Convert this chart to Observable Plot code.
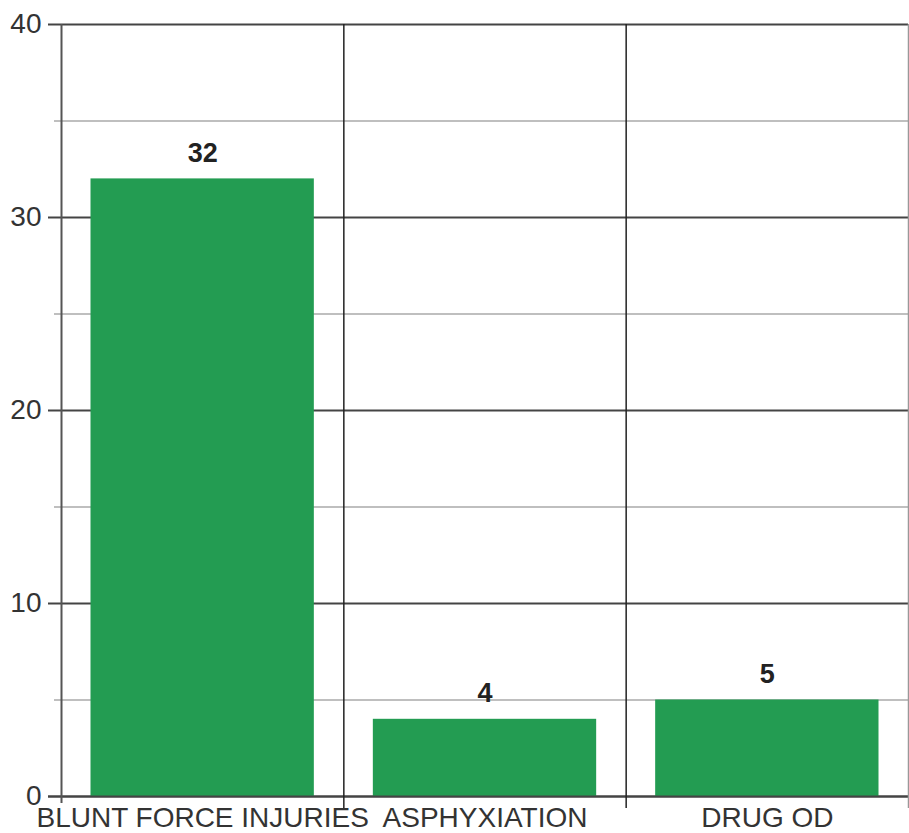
<!DOCTYPE html>
<html>
<head>
<meta charset="utf-8">
<script src="https://cdn.jsdelivr.net/npm/d3@7"></script>
<script src="https://cdn.jsdelivr.net/npm/@observablehq/plot@0.6"></script>
<style>
  html, body { margin: 0; padding: 0; background: #fff; }
  #chart svg { display: block; }
</style>
</head>
<body>
<div id="chart"></div>
<script>
const categories = ["BLUNT FORCE INJURIES", "ASPHYXIATION", "DRUG OD"];
const values = [32, 4, 5];
const majorTicks = [0, 10, 20, 30, 40];
const minorTicks = [5, 15, 25, 35];

const data = categories.map((c, i) => ({category: c, value: values[i], i}));
const dividers = d3.range(categories.length + 1);

const font = "'Liberation Sans', Arial, Helvetica, sans-serif";

const chart = Plot.plot({
  width: 909,
  height: 833,
  marginTop: 24,
  marginBottom: 37,
  marginLeft: 61,
  marginRight: 1,
  x: {domain: [0, categories.length], axis: null},
  y: {domain: [0, 40], axis: null},
  style: {fontFamily: font, fontSize: "28px", background: "#fff", overflow: "visible"},
  marks: [
    Plot.ruleY(minorTicks, {stroke: "#aaa", strokeWidth: 1.5, insetLeft: -7}),
    Plot.ruleY(majorTicks, {stroke: "#444", strokeWidth: 2, insetLeft: -13}),
    Plot.rectY(data, {x1: d => d.i, x2: d => d.i + 1, y: "value", fill: "#239c52", insetLeft: 29.5, insetRight: 29.5}),
    Plot.ruleY([0], {stroke: "#444", strokeWidth: 2, insetLeft: -13}),
    Plot.ruleX(dividers.filter(d => d === 0), {stroke: "#555", strokeWidth: 2, insetBottom: -7}),
    Plot.ruleX(dividers.filter(d => d > 0 && d < categories.length), {stroke: "#222", strokeWidth: 1.5, insetBottom: -12}),
    Plot.ruleX(dividers.filter(d => d === categories.length), {stroke: "#999", strokeWidth: 1.5, insetBottom: -12}),
    Plot.text(majorTicks, {x: 0, y: d => d, text: d => String(d), textAnchor: "end", dx: -20, fill: "#333", fontSize: 28}),
    Plot.text(data, {x: d => d.i + 0.5, y: 0, text: "category", dy: 22, fill: "#333", fontSize: 28}),
    Plot.text(data, {x: d => d.i + 0.5, y: "value", text: d => String(d.value), dy: -26, fontWeight: "bold", fill: "#222", fontSize: 27})
  ]
});

document.getElementById("chart").appendChild(chart);
</script>
</body>
</html>
